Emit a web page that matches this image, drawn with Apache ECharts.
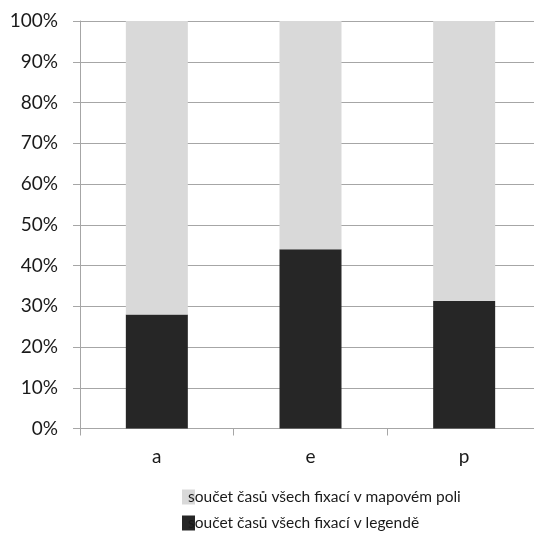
<!DOCTYPE html>
<html>
<head>
<meta charset="utf-8">
<script src="https://cdn.jsdelivr.net/npm/echarts@6/dist/echarts.min.js"></script>
<style>html,body{margin:0;padding:0;background:#fff;overflow:hidden}#c{width:541px;height:533px}</style>
</head>
<body>
<div id="c"></div>
<script>
const categories = ['a', 'e', 'p'];
const seriesNames = ['součet časů všech fixací v mapovém poli', 'součet časů všech fixací v legendě'];
const legendValues = [28.0, 44.0, 31.3];
const mapValues = [72.0, 56.0, 68.7];

const chart = echarts.init(document.getElementById('c'), null, {renderer: 'canvas'});
const font = 'Lato, "Open Sans", sans-serif';
const legendBase = {
  orient: 'horizontal',
  left: 182,
  padding: 0,
  itemWidth: 13,
  itemHeight: 15,
  icon: 'rect',
  textStyle: {fontFamily: font, fontSize: 15.5, color: '#1a1a1a', padding: [0, 0, 0, -12]}
};
chart.setOption({
  animation: false,
  textStyle: {fontFamily: font},
  grid: {left: 80, top: 21, bottom: 104.5, right: 0, containLabel: false},
  legend: [
    Object.assign({}, legendBase, {top: 489, data: [seriesNames[0]]}),
    Object.assign({}, legendBase, {top: 515, data: [seriesNames[1]]})
  ],
  xAxis: {
    type: 'category',
    data: categories,
    axisLine: {show: true, lineStyle: {color: '#a6a6a6', width: 1}},
    axisTick: {show: true, length: 7, lineStyle: {color: '#a6a6a6'}},
    axisLabel: {fontSize: 19, color: '#1a1a1a', margin: 19, fontFamily: font}
  },
  yAxis: {
    type: 'value',
    min: 0, max: 100, interval: 10,
    axisLine: {show: true, lineStyle: {color: '#a6a6a6', width: 1}},
    axisTick: {show: true, length: 7, lineStyle: {color: '#a6a6a6'}},
    axisLabel: {fontSize: 19, color: '#1a1a1a', margin: 22, formatter: '{value}%', fontFamily: font},
    splitLine: {show: true, lineStyle: {color: '#a6a6a6', width: 1}}
  },
  series: [
    {name: seriesNames[1], type: 'bar', stack: 's', data: legendValues, barWidth: 62,
     itemStyle: {color: '#262626'}},
    {name: seriesNames[0], type: 'bar', stack: 's', data: mapValues, barWidth: 62,
     itemStyle: {color: '#d9d9d9'}}
  ]
});
</script>
</body>
</html>
